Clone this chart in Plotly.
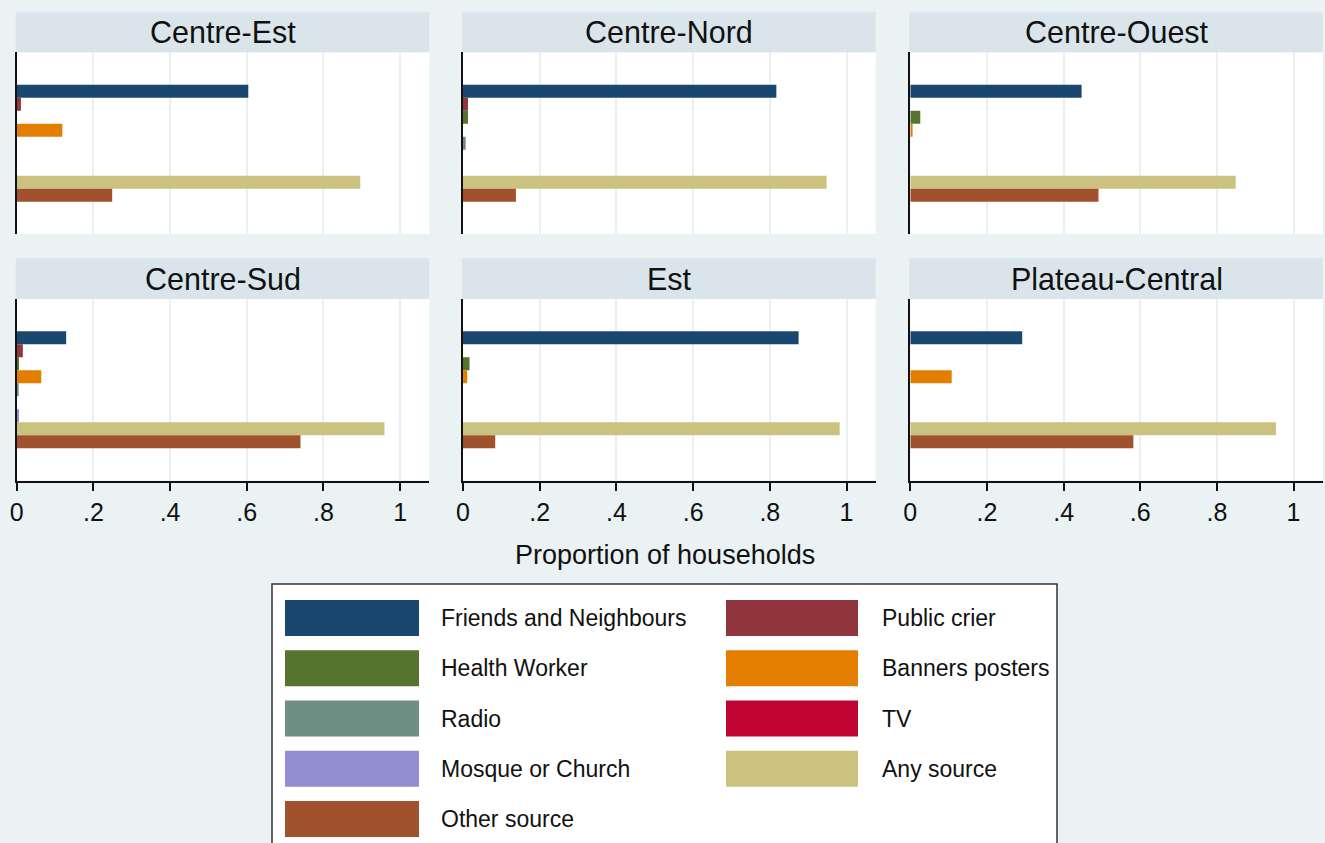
import plotly.graph_objects as go
from plotly.subplots import make_subplots

W, H = 1325, 843

regions = ["Centre-Est", "Centre-Nord", "Centre-Ouest", "Centre-Sud", "Est", "Plateau-Central"]

series_names = ["Friends and Neighbours", "Public crier", "Health Worker", "Banners posters",
                "Radio", "TV", "Mosque or Church", "Any source", "Other source"]
series_colors = ["#1a476f", "#90353b", "#55752f", "#e37e00", "#6e8e84",
                 "#c10534", "#938dd2", "#cac27e", "#a0522d"]

friends_neighbours = [0.604, 0.817, 0.447, 0.129, 0.875, 0.292]
public_crier = [0.011, 0.013, 0.0, 0.016, 0.0, 0.0]
health_worker = [0.0, 0.013, 0.026, 0.006, 0.017, 0.0]
banners_posters = [0.119, 0.0, 0.006, 0.064, 0.011, 0.108]
radio = [0.0, 0.007, 0.0, 0.005, 0.0, 0.0]
tv = [0.0, 0.0, 0.0, 0.0, 0.0, 0.0]
mosque_church = [0.0, 0.0, 0.0, 0.006, 0.0, 0.0]
any_source = [0.896, 0.948, 0.849, 0.959, 0.982, 0.954]
other_source = [0.249, 0.138, 0.491, 0.740, 0.084, 0.582]

series_values = [friends_neighbours, public_crier, health_worker, banners_posters,
                 radio, tv, mosque_church, any_source, other_source]

tick_vals = [0, 0.2, 0.4, 0.6, 0.8, 1]
tick_text = ["0", ".2", ".4", ".6", ".8", "1"]
x_title = "Proportion of households"

FONT = "Liberation Sans, Arial, sans-serif"
BG = "#eaf2f3"
STRIP = "#d9e5eb"
GRID = "#e8f0f3"

def px(x):
    return x / W

def py(y):
    return 1 - y / H

col_px = [(16.7, 429.3), (463.0, 875.7), (910.3, 1322.7)]
row_px = [(52.3, 234.0), (299.0, 480.5)]
strip_px = [(12.3, 52.3), (258.3, 299.0)]

fig = make_subplots(rows=2, cols=3)

for i, reg in enumerate(regions):
    r, c = divmod(i, 3)
    for name, color, vals in zip(series_names, series_colors, series_values):
        fig.add_trace(go.Bar(x=[vals[i]], y=[reg], orientation="h", name=name,
                             legendgroup=name, showlegend=False,
                             marker=dict(color=color, line=dict(width=0))),
                      row=r + 1, col=c + 1)

shapes = []
annotations = []
for i, reg in enumerate(regions):
    r, c = divmod(i, 3)
    n = i + 1
    xa = "xaxis" if n == 1 else f"xaxis{n}"
    ya = "yaxis" if n == 1 else f"yaxis{n}"
    x0, x1 = col_px[c]
    y0, y1 = row_px[r]
    bottom = (r == 1)
    fig.layout[xa].update(
        domain=[px(x0), px(x1)], range=[0, 1.076], tickvals=tick_vals, ticktext=tick_text,
        showgrid=True, gridcolor=GRID, gridwidth=1.5, zeroline=False,
        showline=bottom, linecolor="#111111", linewidth=2,
        ticks="outside" if bottom else "", ticklen=8, tickwidth=2, tickcolor="#111111",
        showticklabels=bottom, tickfont=dict(family=FONT, size=25, color="#111111"),
        automargin=False, fixedrange=True)
    fig.layout[ya].update(
        domain=[py(y1), py(y0)], autorange="reversed", showticklabels=False,
        showgrid=False, zeroline=False, ticks="", showline=True,
        linecolor="#111111", linewidth=2, automargin=False, fixedrange=True)
    s0, s1 = strip_px[r]
    shapes.append(dict(type="rect", xref="paper", yref="paper",
                       x0=px(x0 - 1), x1=px(x1), y0=py(s1), y1=py(s0),
                       fillcolor=STRIP, line=dict(width=0), layer="below"))
    annotations.append(dict(text=reg, xref="paper", yref="paper",
                            x=px((x0 + x1) / 2), y=py((s0 + s1) / 2),
                            xanchor="center", yanchor="middle", showarrow=False,
                            font=dict(family=FONT, size=30.5, color="#111111")))

annotations.append(dict(text=x_title, xref="paper", yref="paper",
                        x=px(665), y=py(555), xanchor="center", yanchor="middle",
                        showarrow=False, font=dict(family=FONT, size=27, color="#111111")))

# legend box (Stata-style, two columns)
shapes.append(dict(type="rect", xref="paper", yref="paper",
                   x0=px(272), x1=px(1057), y0=py(860), y1=py(584),
                   fillcolor="white", line=dict(color="#333333", width=1.5)))
sw_x = [(285, 419), (726, 858)]
txt_x = [439, 880]
row_top0, row_pitch, sw_h = 600, 50.25, 36
for k, (name, color) in enumerate(zip(series_names, series_colors)):
    rr, cc = divmod(k, 2)
    top = row_top0 + rr * row_pitch
    shapes.append(dict(type="rect", xref="paper", yref="paper",
                       x0=px(sw_x[cc][0]), x1=px(sw_x[cc][1]),
                       y0=py(top + sw_h), y1=py(top),
                       fillcolor=color, line=dict(width=0)))
    annotations.append(dict(text=name, xref="paper", yref="paper",
                            x=px(txt_x[cc]), y=py(top + sw_h / 2),
                            xanchor="left", yanchor="middle", showarrow=False,
                            font=dict(family=FONT, size=23, color="#111111")))

fig.update_layout(
    width=W, height=H, margin=dict(l=0, r=0, t=0, b=0, autoexpand=False),
    paper_bgcolor=BG, plot_bgcolor="white",
    barmode="group", bargap=0.356, bargroupgap=0,
    showlegend=False, shapes=shapes, annotations=annotations,
    font=dict(family=FONT, color="#111111"),
)

fig.write_html("out.html", config={"displayModeBar": False},
               post_script="document.body.style.margin='0px';document.body.style.overflow='hidden';")
